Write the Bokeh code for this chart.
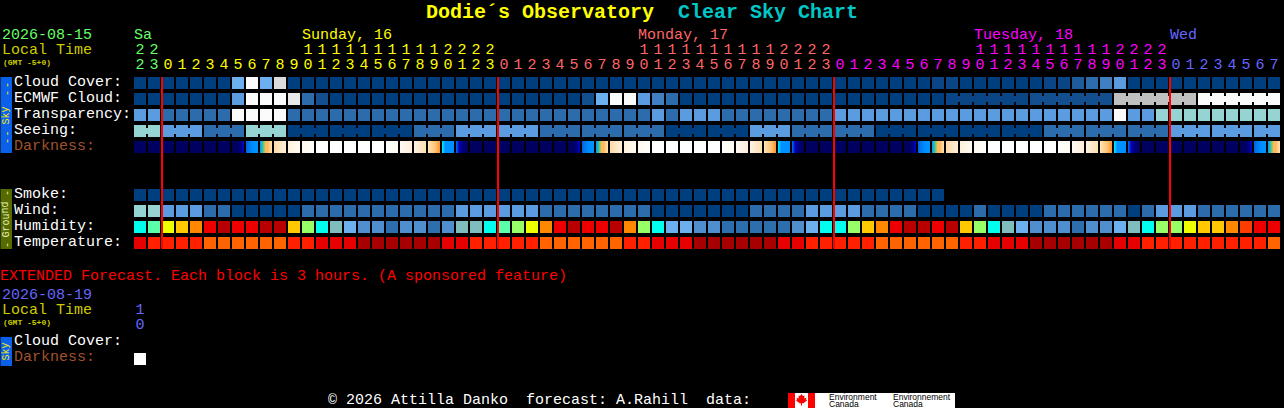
from bokeh.plotting import figure
from bokeh.models import Range1d
from bokeh.core.properties import value
from bokeh.embed import file_html
from bokeh.resources import INLINE

# ---------- data (hour columns, 1 hour per block) ----------
start_hour = 22
hours = [(start_hour + i) % 24 for i in range(82)]

day_labels = [("Sa", 0), ("Sunday, 16", 12), ("Monday, 17", 36), ("Tuesday, 18", 60), ("Wed", 74)]
day_spans = [(0, 2, "#66ff66"), (2, 26, "#ffff00"), (26, 50, "#ff6666"), (50, 74, "#ff00ff"), (74, 82, "#6666ff")]

cloud_cover = [0]*7 + [7, 12, 7, 10] + [0]*46 + [1, 1] + [0]*6 + [1, 1] + [3, 4, 5, 6] + [0]*11
ecmwf_cloud = [0]*7 + [6, 12, 12, 12, 11, 4, 2] + [0]*18 + [2, 7, 12, 12, 6, 5, 4] + [0]*19 + [1]*6 + [2]*6 + [9]*6 + [12]*6
transparency = [6, 6] + [4]*5 + [12]*4 + [4]*26 + [6, 4, 6, 6, 6] + [4]*8 + [6]*20 + [12, 6, 6] + [8]*9
seeing = [8]*2 + [6]*3 + [4]*3 + [8]*3 + [0]*9 + [4]*3 + [6]*6 + [4]*9 + [0]*6 + [6]*3 + [4]*6 + [0]*12 + [4]*9 + [6]*8
darkness = list("nnnnnnnabcdefWWWWWghijkl" "nnnnnnnabcdefWWWWWghijkl" "nnnnnnnabcdefWWWWWghijkl" "nnnnnnnabc")
smoke = [0]*58
wind = ([8, 8, 6, 6, 6, 4, 4] + [0]*5 + [4]*11 + [6]*6 + [4]*8 + [0]*7 + [4]*4 + [6]*4
        + [4]*4 + [0]*4 + [4] + [0]*4 + [4]*6 + [0, 4, 6, 6, 6] + [4]*6)
humidity = list("CMYyOrdrrddyGCgLBBDBB" "DBggCMGYOrdrrdOGCLLBBDDDDDBLCCG" "yOrddrdyGCgLBBBDBBLgCGGYyyORrr")
temperature = ([1, 2, 2, 2, 2] + [3]*6 + [2]*2 + [1]*3 + [0]*6 + [1]*2 + [2]*5 + [3]*6 + [2]*2 + [1]*3 + [0]*6
               + [1]*2 + [2]*5 + [3]*6 + [2]*2 + [1]*3 + [0]*6 + [1]*2 + [2]*9 + [3])

ext_darkness = ["W"]

row_labels = ["Cloud Cover:", "ECMWF Cloud:", "Transparency:", "Seeing:", "Darkness:"]
ground_labels = ["Smoke:", "Wind:", "Humidity:", "Temperature:"]

# ---------- styles ----------
sky_colors = {0: "#003f7f", 1: "#0a4686", 2: "#134f8f", 3: "#1f5c9c", 4: "#2c6cac", 5: "#4080c2", 6: "#5b9bdf",
              7: "#6db0f0", 8: "#96d3d3", 9: "#c0c0c0", 10: "#dcdcdc", 11: "#e8e8e8", 12: "#fbfbfb"}
hum_colors = {"C": "#00ffee", "M": "#5affaa", "G": "#99ff66", "Y": "#eeff00", "y": "#ffc800", "O": "#ff8800",
              "R": "#ff3c00", "r": "#ee0000", "d": "#b80000", "g": "#80bdbd", "L": "#6db0f0", "B": "#4f8fcf",
              "D": "#2d6fae"}
temp_colors = {0: "#a80000", 1: "#e60000", 2: "#ff2000", 3: "#ff6400"}
dark_stops = {
    "n": ["#000060", "#000060"],
    "a": ["#000060", "#000060", "#000060", "#000070", "#000080", "#0000d0"],
    "b": ["#0066e0", "#0080f8", "#0090ff", "#0090ff"],
    "c": ["#00a0ff", "#30c0a0", "#a0c060", "#ffc060", "#ffb060", "#ffd090", "#ffdca0"],
    "d": ["#ffdcaa", "#fff0d8"],
    "e": ["#fff2dc", "#fffaf0"],
    "f": ["#fff8f0", "#fffffa"],
    "W": ["#ffffff", "#ffffff"],
    "g": ["#ffffff", "#fffaf2"],
    "h": ["#fff8f0", "#ffeedd"],
    "i": ["#fff0dc", "#ffe0b4"],
    "j": ["#ffe2b0", "#ffd090", "#ffc070", "#ff9830"],
    "k": ["#00e0ff", "#0090ff", "#0090ff", "#0090ff", "#0090ff"],
    "l": ["#0060e8", "#0000c0", "#000080", "#000070", "#000060"],
}

MONO = "Liberation Mono"
X0, PITCH, CELL = 134, 14, 12
BASE_K = 0.3

p = figure(width=1284, height=408, output_backend="svg", toolbar_location=None,
           x_range=Range1d(0.5, 1284.5), y_range=Range1d(408.5, 0.5), min_border=0)
p.axis.visible = False
p.grid.visible = False
p.outline_line_color = None
p.background_fill_color = "#000000"
p.border_fill_color = "#000000"
p.styles = {"position": "fixed", "left": "0", "top": "0", "background": "#000000"}
p.quad(left=[-2], right=[1286], top=[-2], bottom=[410], fill_color="#000000", line_color=None)


def cell_x(c):
    return X0 + PITCH * c


def blocks(values, top, colors):
    xs = [cell_x(c) for c in range(len(values))]
    p.quad(left=xs, right=[x + CELL for x in xs], top=[top] * len(xs), bottom=[top + CELL] * len(xs),
           fill_color=[colors[v] for v in values], line_color=None)


def bridges(values, top, colors, joined):
    cs = [c for c in range(len(values) - 1) if joined(c)]
    p.quad(left=[cell_x(c) + CELL for c in cs], right=[cell_x(c) + PITCH for c in cs],
           top=[top + 3] * len(cs), bottom=[top + 9] * len(cs),
           fill_color=[colors[values[c]] for c in cs], line_color=None)


def hex2rgb(h):
    return tuple(int(h[i:i + 2], 16) for i in (1, 3, 5))


def ramp(stops, n=CELL):
    out = []
    for i in range(n):
        t = i / (n - 1) * (len(stops) - 1)
        k = min(int(t), len(stops) - 2)
        f = t - k
        a, b = hex2rgb(stops[k]), hex2rgb(stops[k + 1])
        out.append("#%02x%02x%02x" % tuple(round(a[j] + (b[j] - a[j]) * f) for j in range(3)))
    return out


def dark_blocks(values, top):
    ls, cs = [], []
    for c, v in enumerate(values):
        for i, col in enumerate(ramp(dark_stops[v])):
            ls.append(cell_x(c) + i)
            cs.append(col)
    p.quad(left=ls, right=[x + 1 for x in ls], top=[top] * len(ls), bottom=[top + CELL] * len(ls),
           fill_color=cs, line_color=None)


def put(x, y, text, color, size=15, font=MONO, style="normal", align="left", angle=0):
    if angle:
        x -= BASE_K * size
    else:
        y -= BASE_K * size
        if text.replace("-", "").isdigit():
            y -= 1.5
    p.text(x=[x], y=[y], text=[text], text_color=color, text_font_size=f"{size}px",
           text_font=value(font), text_font_style=style, text_align=align,
           text_baseline="alphabetic", angle=angle)


# ---------- title ----------
put(426, 18, "Dodie\u00b4s Observatory", "#ffff00", 20, style="bold")
put(678, 18, "Clear Sky Chart", "#00c8c8", 20, style="bold")

# ---------- header ----------
put(2, 40, "2026-08-15", "#66ff66")
put(2, 55, "Local Time", "#cccc00")
put(3, 65, "(GMT -5+0)", "#cccc00", 8, style="bold")
for name, col in day_labels:
    c = [s[2] for s in day_spans if s[0] <= col < s[1]][0]
    put(cell_x(col), 40, name, c)
for a, b, c in day_spans:
    for col in range(a, b):
        h = hours[col]
        put(cell_x(col) + 6, 70, str(h % 10), c, align="center")
        if h >= 10:
            put(cell_x(col) + 6, 55, str(h // 10), c, align="center")

# ---------- side tabs ----------
TAB_X = 9
p.quad(left=[0], right=[12], top=[77], bottom=[153], fill_color="#0a60e8", line_color=None)
put(TAB_X, 115.5, "Sky", "#ffee00", 10, align="center", angle=1.5708)
for y in (85, 93, 133.5, 141):
    put(TAB_X, y, "-", "#ffee00", 10, align="center", angle=1.5708)
p.quad(left=[0], right=[12], top=[189], bottom=[249], fill_color="#556b00", line_color=None)
put(TAB_X, 219.5, "Ground", "#e8f0b0", 10, align="center", angle=1.5708)
for y in (193, 245):
    put(TAB_X, y, "-", "#e8f0b0", 10, align="center", angle=1.5708)

# ---------- rows ----------
for i, lab in enumerate(row_labels):
    put(14, 87 + 16 * i, lab, "#a0522d" if lab == "Darkness:" else "#ffffff")
for i, lab in enumerate(ground_labels):
    put(14, 199 + 16 * i, lab, "#ffffff")

blocks(cloud_cover, 77, sky_colors)
blocks(ecmwf_cloud, 93, sky_colors)
bridges(ecmwf_cloud, 93, sky_colors, lambda c: c >= 58 and (c - 58) // 6 == (c - 57) // 6)
blocks(transparency, 109, sky_colors)
blocks(seeing, 125, sky_colors)
bridges(seeing, 125, sky_colors, lambda c: (c + 1) // 3 == (c + 2) // 3)
dark_blocks(darkness, 141)
blocks(smoke, 189, sky_colors)
blocks(wind, 205, sky_colors)
blocks(humidity, 221, hum_colors)
blocks(temperature, 237, temp_colors)

# midnight markers
for col in (2, 26, 50, 74):
    m = cell_x(col) - 1
    p.quad(left=[m], right=[m + 2], top=[77], bottom=[249], fill_color="#ff0000", line_color=None)

# ---------- extended ----------
put(0, 281, "EXTENDED Forecast. Each block is 3 hours. (A sponsored feature)", "#ff0000")
put(2, 300, "2026-08-19", "#6666ff")
put(2, 315, "Local Time", "#cccc00")
put(3, 325, "(GMT -5+0)", "#cccc00", 8, style="bold")
put(140, 315, "1", "#6666ff", align="center")
put(140, 330, "0", "#6666ff", align="center")
p.quad(left=[0], right=[12], top=[337], bottom=[366], fill_color="#0a60e8", line_color=None)
put(TAB_X, 351.5, "Sky", "#ffee00", 10, align="center", angle=1.5708)
put(14, 346, "Cloud Cover:", "#ffffff")
put(14, 362, "Darkness:", "#a0522d")
dark_blocks(ext_darkness, 353)

# ---------- footer ----------
put(328, 405, "\u00a9 2026 Attilla Danko \u00a0forecast: A.Rahill \u00a0data:", "#ffffff")
p.quad(left=[788], right=[955], top=[393], bottom=[408], fill_color="#ffffff", line_color=None)
p.quad(left=[788, 808], right=[795, 815], top=[393, 393], bottom=[408, 408], fill_color="#ff0000", line_color=None)
p.patch(x=[801.5, 803, 804.5, 804.3, 806.5, 806, 807, 803, 802, 802, 801, 801, 800, 796, 797, 796.5, 798.7, 798.5, 800],
        y=[394, 396, 395.5, 398.5, 397.5, 399.5, 400.5, 403.5, 403, 405.5, 405.5, 403, 403.5, 400.5, 399.5, 397.5, 398.5, 395.5, 396],
        fill_color="#ff0000", line_color=None)
put(829, 400, "Environment", "#000000", 8.5, font="Liberation Sans")
put(829, 407, "Canada", "#000000", 8.5, font="Liberation Sans")
put(893, 400, "Environnement", "#000000", 8.5, font="Liberation Sans")
put(893, 407, "Canada", "#000000", 8.5, font="Liberation Sans")

open("out.html", "w").write(file_html(p, INLINE))
